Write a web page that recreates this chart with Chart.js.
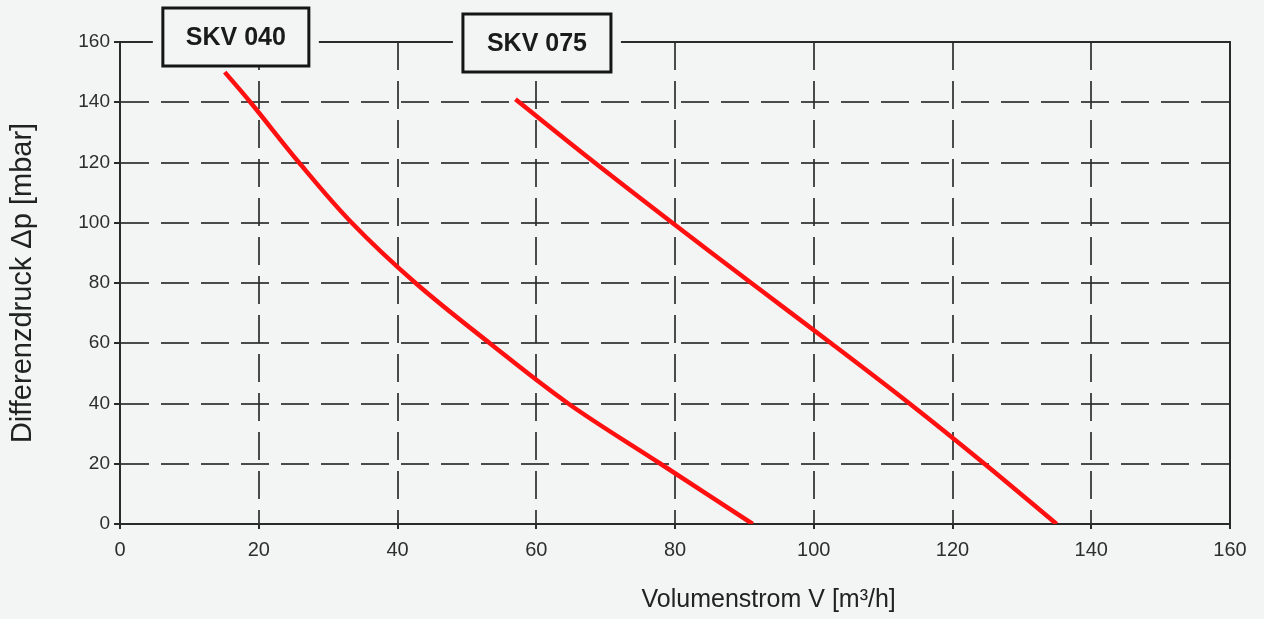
<!DOCTYPE html>
<html>
<head>
<meta charset="utf-8">
<script src="https://cdn.jsdelivr.net/npm/chart.js@4/dist/chart.umd.min.js"></script>
<style>
  html, body { margin: 0; padding: 0; background: #f3f4f4; }
  #wrap { width: 1264px; height: 619px; }
</style>
</head>
<body>
<div id="wrap"><canvas id="c" width="1264" height="619"></canvas></div>
<script>
// ---- data ----
const skv040X = [15.1, 18.8, 25.8, 33.4, 42.6, 53.3, 64.6, 77.9, 91.2];
const skv040Y = [150, 140, 120, 100, 80, 60, 40, 20, 0];
const skv075X = [57, 68.4, 79.6, 91.0, 102.5, 113.8, 124.6, 135];
const skv075Y = [141, 120, 100, 80, 60, 40, 20, 0];
const seriesNames = ['SKV 040', 'SKV 075'];
const xTickValues = [0, 20, 40, 60, 80, 100, 120, 140, 160];
const yTickValues = [0, 20, 40, 60, 80, 100, 120, 140, 160];
const xTitle = 'Volumenstrom V [m³/h]';
const yTitle = 'Differenzdruck Δp [mbar]';

const BG = '#f3f4f4';
const FONT = '"Liberation Sans", Arial, sans-serif';

function pts(xs, ys) { return xs.map((x, i) => ({ x: x, y: ys[i] })); }

const framePlugin = {
  id: 'frame',
  beforeDatasetsDraw(chart) {
    const { ctx, chartArea: a } = chart;
    ctx.save();
    ctx.strokeStyle = '#2a2a2a';
    ctx.lineWidth = 2;
    ctx.setLineDash([]);
    ctx.strokeRect(a.left, a.top, a.right - a.left, a.bottom - a.top);
    ctx.restore();
  },
  afterDraw(chart, args, opts) {
    const { ctx, chartArea: a, scales } = chart;
    const xs = scales.x;
    ctx.save();
    opts.boxes.forEach((b, i) => {
      const cx = xs.getPixelForValue(b.xValue);
      const cy = a.top + b.dy;
      const w = b.w, h = b.h;
      ctx.fillStyle = BG;
      ctx.fillRect(cx - w / 2 - 10, cy - h / 2, w + 20, h);
      ctx.strokeStyle = '#151515';
      ctx.lineWidth = 3;
      ctx.strokeRect(cx - w / 2, cy - h / 2, w, h);
      ctx.fillStyle = '#1a1a1a';
      ctx.font = 'bold 25px ' + FONT;
      ctx.textAlign = 'center';
      ctx.textBaseline = 'middle';
      ctx.fillText(seriesNames[i], cx, cy + 1);
    });
    ctx.fillStyle = '#222';
    ctx.font = '25px ' + FONT;
    ctx.textAlign = 'center';
    ctx.textBaseline = 'middle';
    ctx.fillText(xTitle, xs.getPixelForValue(opts.xTitleValue), a.bottom + opts.xTitleDy);
    ctx.restore();
  }
};

new Chart(document.getElementById('c'), {
  type: 'line',
  data: {
    datasets: [
      { label: seriesNames[0], data: pts(skv040X, skv040Y), borderColor: '#ff1010', borderWidth: 4.5,
        pointRadius: 0, fill: false, tension: 0.35 },
      { label: seriesNames[1], data: pts(skv075X, skv075Y), borderColor: '#ff1010', borderWidth: 4.5,
        pointRadius: 0, fill: false, tension: 0.35 }
    ]
  },
  options: {
    responsive: false,
    animation: false,
    layout: { padding: { top: 42, right: 34, left: 0, bottom: 0 } },
    plugins: {
      legend: { display: false },
      tooltip: { enabled: false },
      frame: {
        boxes: [
          { xValue: 16.7, dy: -5, w: 146, h: 58 },
          { xValue: 60.1, dy: 1, w: 148, h: 58 }
        ],
        xTitleValue: 93.5,
        xTitleDy: 76
      }
    },
    scales: {
      x: {
        type: 'linear', min: 0, max: 160,
        afterBuildTicks: s => { s.ticks = xTickValues.map(v => ({ value: v })); },
        afterFit: s => { s.height = 95; },
        grid: { color: 'rgba(45,45,45,0.85)', lineWidth: 2, drawTicks: true, tickLength: 5,
                tickColor: '#2a2a2a', tickBorderDash: [] },
        border: { display: true, color: '#2a2a2a', width: 2, dash: [28, 11] },
        ticks: { color: '#2e2e2e', font: { family: FONT, size: 20 }, padding: 9, maxRotation: 0 },
        title: { display: false }
      },
      y: {
        type: 'linear', min: 0, max: 160,
        afterBuildTicks: s => { s.ticks = yTickValues.map(v => ({ value: v })); },
        afterFit: s => { s.width = 120; },
        grid: { color: 'rgba(45,45,45,0.85)', lineWidth: 2, drawTicks: true, tickLength: 6,
                tickColor: '#2a2a2a', tickBorderDash: [] },
        border: { display: true, color: '#2a2a2a', width: 2, dash: [28, 12] },
        ticks: { color: '#2e2e2e', font: { family: FONT, size: 19 }, padding: 4 },
        title: { display: true, text: yTitle, color: '#222', font: { family: FONT, size: 29 },
                 padding: { top: 6, bottom: 0 } }
      }
    }
  },
  plugins: [framePlugin]
});
</script>
</body>
</html>
